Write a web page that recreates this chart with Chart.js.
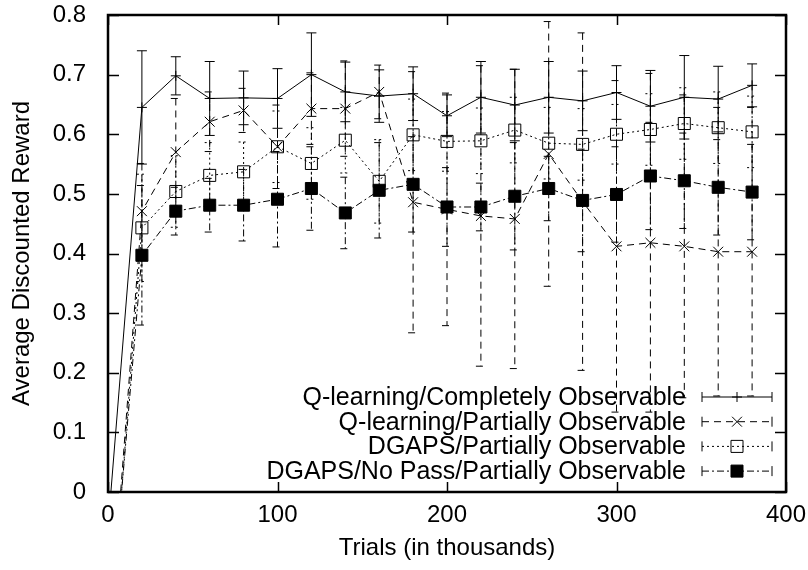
<!DOCTYPE html>
<html>
<head>
<meta charset="utf-8">
<script src="https://cdn.jsdelivr.net/npm/chart.js@4.4.1/dist/chart.umd.min.js"></script>
<style>
  html, body { margin: 0; padding: 0; background: #fff; }
  #wrap { width: 808px; height: 570px; }
</style>
</head>
<body>
<div id="wrap"><canvas id="myChart" width="808" height="570"></canvas></div>
<script>
// Trials in thousands (first point lies below the axis and is clipped)
const trials = [0, 20, 40, 60, 80, 100, 120, 140, 160, 180, 200, 220, 240, 260, 280, 300, 320, 340, 360, 380];

const qComplete    = [-0.06, 0.645, 0.698, 0.660, 0.661, 0.660, 0.700, 0.671, 0.664, 0.668, 0.631, 0.662, 0.649, 0.662, 0.656, 0.670, 0.647, 0.662, 0.659, 0.682];
const qCompleteErr = [0, 0.095, 0.032, 0.062, 0.045, 0.050, 0.070, 0.050, 0.044, 0.045, 0.035, 0.060, 0.060, 0.060, 0.050, 0.045, 0.060, 0.070, 0.055, 0.036];

const qPartial    = [-0.28, 0.471, 0.570, 0.621, 0.640, 0.579, 0.643, 0.643, 0.671, 0.486, 0.474, 0.463, 0.458, 0.567, 0.487, 0.412, 0.418, 0.412, 0.403, 0.403];
const qPartialErr = [0, 0.080, 0.090, 0.050, 0.037, 0.070, 0.060, 0.080, 0.045, 0.219, 0.195, 0.252, 0.251, 0.222, 0.283, 0.278, 0.284, 0.254, 0.242, 0.242];

const dgaps    = [-0.295, 0.443, 0.504, 0.531, 0.537, 0.579, 0.551, 0.590, 0.521, 0.599, 0.588, 0.589, 0.607, 0.585, 0.583, 0.600, 0.608, 0.618, 0.611, 0.604];
const dgapsErr = [0, 0.090, 0.060, 0.055, 0.050, 0.060, 0.060, 0.055, 0.070, 0.060, 0.050, 0.055, 0.055, 0.060, 0.060, 0.050, 0.060, 0.060, 0.060, 0.060];

const noPass    = [-0.265, 0.397, 0.471, 0.481, 0.481, 0.491, 0.509, 0.468, 0.506, 0.516, 0.478, 0.478, 0.496, 0.509, 0.489, 0.499, 0.530, 0.522, 0.511, 0.503];
const noPassErr = [0, 0.117, 0.040, 0.045, 0.060, 0.080, 0.070, 0.060, 0.080, 0.080, 0.066, 0.040, 0.090, 0.054, 0.086, 0.080, 0.090, 0.080, 0.080, 0.080];

const seriesLabels = [
  'Q-learning/Completely Observable',
  'Q-learning/Partially Observable',
  'DGAPS/Partially Observable',
  'DGAPS/No Pass/Partially Observable'
];
const xTicks = [0, 100, 200, 300, 400];
const yTicks = [0, 0.1, 0.2, 0.3, 0.4, 0.5, 0.6, 0.7, 0.8];

const FONT = '"Liberation Sans", Arial, sans-serif';
const errs = [qCompleteErr, qPartialErr, dgapsErr, noPassErr];
const dashes = [[], [7, 5], [2, 3], [7, 3, 2, 3]];
const markers = [
  { style: 'cross', radius: 5, fill: 'rgba(0,0,0,0)' },
  { style: 'crossRot', radius: 7, fill: 'rgba(0,0,0,0)' },
  { style: 'rect', radius: 8.5, fill: 'rgba(0,0,0,0)' },
  { style: 'rect', radius: 8.5, fill: '#000' }
];

function makeSet(i, values) {
  const m = markers[i];
  return {
    label: seriesLabels[i],
    data: values.map((v, j) => ({ x: trials[j], y: v })),
    borderColor: '#000',
    borderWidth: 1,
    borderDash: dashes[i],
    pointStyle: m.style,
    pointRadius: ctx => ctx.dataIndex === 0 ? 0 : m.radius,
    pointHoverRadius: ctx => ctx.dataIndex === 0 ? 0 : m.radius,
    pointBackgroundColor: m.fill,
    pointBorderColor: '#000',
    pointBorderWidth: 1,
    tension: 0,
    fill: false
  };
}

function drawMarker(ctx, i, x, y) {
  const m = markers[i];
  ctx.save();
  ctx.setLineDash([]);
  ctx.lineWidth = 1;
  ctx.strokeStyle = '#000';
  ctx.beginPath();
  if (m.style === 'cross') {
    ctx.moveTo(x - m.radius, y); ctx.lineTo(x + m.radius, y);
    ctx.moveTo(x, y - m.radius); ctx.lineTo(x, y + m.radius);
    ctx.stroke();
  } else if (m.style === 'crossRot') {
    const d = m.radius * Math.SQRT1_2;
    ctx.moveTo(x - d, y - d); ctx.lineTo(x + d, y + d);
    ctx.moveTo(x - d, y + d); ctx.lineTo(x + d, y - d);
    ctx.stroke();
  } else {
    const s = m.radius * Math.SQRT1_2;
    ctx.rect(x - s, y - s, 2 * s, 2 * s);
    ctx.fillStyle = m.fill;
    ctx.fill();
    ctx.stroke();
  }
  ctx.restore();
}

// error bars, frame with inward ticks, and key
const gnuplotLook = {
  id: 'gnuplotLook',
  beforeDatasetsDraw(chart) {
    const { ctx, chartArea, scales } = chart;
    ctx.save();
    ctx.beginPath();
    ctx.rect(chartArea.left, chartArea.top, chartArea.right - chartArea.left, chartArea.bottom - chartArea.top);
    ctx.clip();
    ctx.strokeStyle = '#000';
    ctx.lineWidth = 1;
    chart.data.datasets.forEach((ds, i) => {
      ctx.setLineDash(dashes[i]);
      ds.data.forEach((pt, j) => {
        if (j === 0) return;
        const x = scales.x.getPixelForValue(pt.x);
        const yt = scales.y.getPixelForValue(pt.y + errs[i][j]);
        const yb = scales.y.getPixelForValue(pt.y - errs[i][j]);
        ctx.beginPath();
        ctx.moveTo(x, yt); ctx.lineTo(x, yb);
        ctx.moveTo(x - 5, yt); ctx.lineTo(x + 5, yt);
        ctx.moveTo(x - 5, yb); ctx.lineTo(x + 5, yb);
        ctx.stroke();
      });
    });
    ctx.restore();
  },
  afterDraw(chart) {
    const { ctx, chartArea, scales } = chart;
    const { left, right, top, bottom } = chartArea;
    ctx.save();
    ctx.setLineDash([]);
    ctx.strokeStyle = '#000';
    ctx.lineWidth = 1.5;
    yTicks.forEach(v => {
      const y = Math.round(scales.y.getPixelForValue(v)) + 0.5;
      ctx.beginPath();
      ctx.moveTo(left, y); ctx.lineTo(left + 11, y);
      ctx.moveTo(right, y); ctx.lineTo(right - 11, y);
      ctx.stroke();
    });
    xTicks.forEach(v => {
      const x = Math.round(scales.x.getPixelForValue(v)) + 0.5;
      ctx.beginPath();
      ctx.moveTo(x, bottom); ctx.lineTo(x, bottom - 10);
      ctx.moveTo(x, top); ctx.lineTo(x, top + 10);
      ctx.stroke();
    });
    ctx.lineWidth = 2.5;
    ctx.strokeRect(left, top, right - left, bottom - top);

    // key in the lower right corner
    const x2 = right - 14, x1 = x2 - 70, xm = (x1 + x2) / 2;
    const rowH = 24.7;
    const y0 = bottom - 95;
    ctx.font = '25px ' + FONT;
    ctx.textAlign = 'right';
    ctx.textBaseline = 'middle';
    ctx.fillStyle = '#000';
    seriesLabels.forEach((label, i) => {
      const y = y0 + i * rowH;
      ctx.fillText(label, x1 - 16, y + 1);
      ctx.lineWidth = 1;
      ctx.setLineDash(dashes[i]);
      ctx.beginPath();
      ctx.moveTo(x1, y); ctx.lineTo(x2, y);
      ctx.stroke();
      ctx.setLineDash([]);
      ctx.beginPath();
      ctx.moveTo(x1, y - 5); ctx.lineTo(x1, y + 5);
      ctx.moveTo(x2, y - 5); ctx.lineTo(x2, y + 5);
      ctx.stroke();
      drawMarker(ctx, i, xm, y);
    });
    ctx.restore();
  }
};

window.addEventListener('load', () => {
  const ctx = document.getElementById('myChart').getContext('2d');
  new Chart(ctx, {
    type: 'line',
    data: {
      datasets: [
        makeSet(0, qComplete),
        makeSet(1, qPartial),
        makeSet(2, dgaps),
        makeSet(3, noPass)
      ]
    },
    options: {
      responsive: false,
      animation: false,
      events: [],
      layout: { padding: { top: 15, right: 22, left: 0, bottom: 0 } },
      plugins: {
        legend: { display: false },
        tooltip: { enabled: false }
      },
      scales: {
        x: {
          type: 'linear',
          min: 0,
          max: 400,
          afterFit: s => { s.height = 78; },
          afterBuildTicks: s => { s.ticks = xTicks.map(v => ({ value: v })); },
          grid: { display: false, drawTicks: true, tickLength: 9 },
          border: { display: false },
          ticks: {
            padding: 0,
            color: '#000',
            font: { family: FONT, size: 24 },
            maxRotation: 0
          },
          title: {
            display: true,
            text: 'Trials (in thousands)',
            color: '#000',
            font: { family: FONT, size: 24 },
            padding: { top: 0, bottom: 7 }
          }
        },
        y: {
          type: 'linear',
          min: 0,
          max: 0.8,
          afterFit: s => { s.width = 108; },
          afterBuildTicks: s => { s.ticks = yTicks.map(v => ({ value: v })); },
          grid: { display: false, drawTicks: true, tickLength: 22 },
          border: { display: false },
          ticks: {
            padding: 0,
            color: '#000',
            font: { family: FONT, size: 24 },
            callback: v => v === 0 ? '0' : v.toFixed(1)
          },
          title: {
            display: true,
            text: 'Average Discounted Reward',
            color: '#000',
            font: { family: FONT, size: 24 },
            padding: { top: 8, bottom: 0 }
          }
        }
      }
    },
    plugins: [gnuplotLook]
  });
});
</script>
</body>
</html>
